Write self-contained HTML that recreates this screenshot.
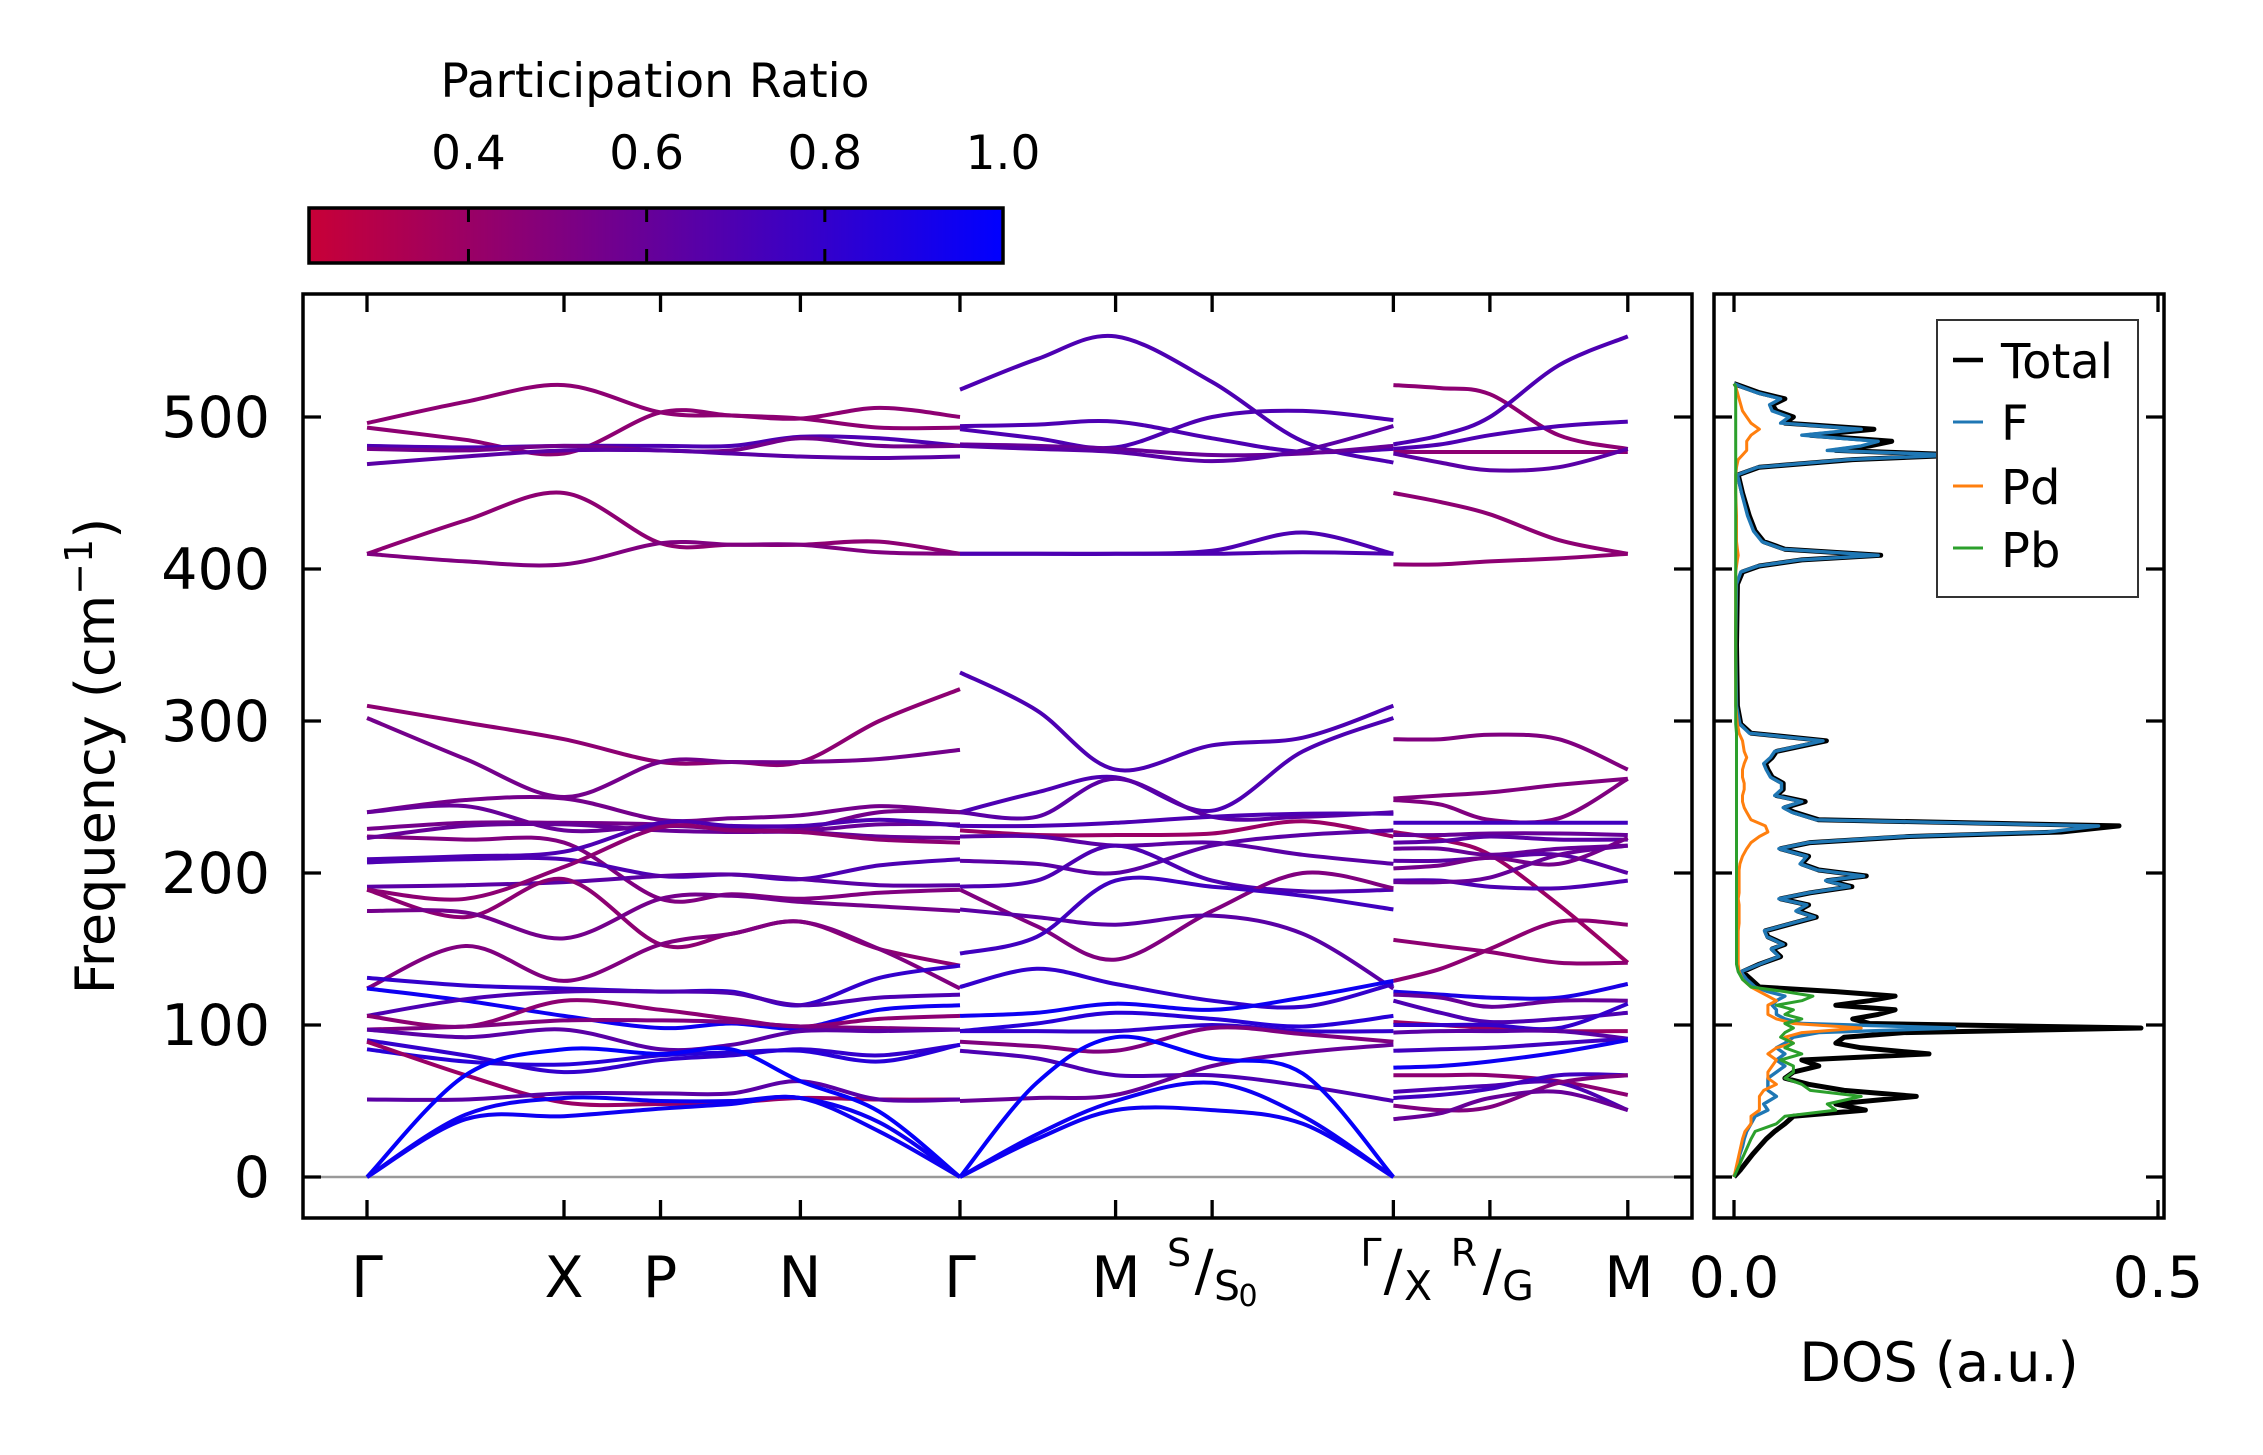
<!DOCTYPE html>
<html><head><meta charset="utf-8"><style>
html,body{margin:0;padding:0;background:#fff;}
svg{display:block;font-family:"DejaVu Sans","Liberation Sans",sans-serif;}
</style></head><body>
<svg id="chart" width="2263" height="1455" viewBox="0 0 2263 1455" xmlns="http://www.w3.org/2000/svg">
<defs>
<linearGradient id="cmap" x1="0" x2="1" y1="0" y2="0">
<stop offset="0" stop-color="rgb(200,0,55)"/><stop offset="1" stop-color="rgb(0,0,255)"/>
</linearGradient>
<clipPath id="mainclip"><rect x="303" y="294" width="1389" height="924"/></clipPath>
<clipPath id="dosclip"><rect x="1714" y="294" width="450" height="924"/></clipPath>
</defs>
<g id="colorbar">
<text x="655" y="97" font-size="47" text-anchor="middle">Participation Ratio</text>
<rect x="309" y="208" width="694" height="55" fill="url(#cmap)" stroke="#000" stroke-width="3.5"/>
</g>
<g id="bands" clip-path="url(#mainclip)"></g>
<g id="dos" clip-path="url(#dosclip)"></g>
<g id="axes"></g>
<g id="legend">
<rect x="1937" y="320" width="201" height="277" fill="#fff" stroke="#333" stroke-width="2"/>
<line x1="1953" x2="1983" y1="360" y2="360" stroke="#000" stroke-width="4.5"/>
<text x="2001" y="378" font-size="48">Total</text>
<line x1="1953" x2="1983" y1="422" y2="422" stroke="#1f77b4" stroke-width="3"/>
<text x="2001" y="440" font-size="48">F</text>
<line x1="1953" x2="1983" y1="486" y2="486" stroke="#ff7f0e" stroke-width="3"/>
<text x="2001" y="504" font-size="48">Pd</text>
<line x1="1953" x2="1983" y1="548" y2="548" stroke="#2ca02c" stroke-width="3"/>
<text x="2001" y="567" font-size="48">Pb</text>
</g>
</svg>
<script>
const NS="http://www.w3.org/2000/svg";
// ---- band data ----
const segAk=[0,0.5,1,1.49,1.85,2.2,2.6,3.01];
const segABands=[
[496,510,521,503,501,499,506,500],[493,485,476,503,501,499,493,493],[481,480,481,481,481,487,486,481],
[479,478,481,478,478,486,481,481],[469,474,478,478,476,474,473,474],[410,432,450,417,416,416,418,410],
[410,405,403,417,416,416,411,410],[310,299,288,273,273,273,300,321],[302,275,250,273,273,273,275,281],
[240,248,249,235,236,238,244,240],[240,244,228,231,229,228,232,232],[229,233,233,232,229,229,240,240],
[224,222,220,183,186,183,187,189],[223,231,232,228,227,227,224,223],[209,211,214,233,231,231,235,231],
[207,209,209,198,199,196,205,209],[191,192,194,198,199,196,192,192],[189,183,204,230,228,227,222,220],
[189,171,196,153,160,168,150,139],[175,174,157,183,185,181,178,175],[124,152,129,153,160,168,150,124],
[131,126,124,122,122,113,131,139],[124,116,106,98,101,98,110,113],[106,117,122,122,121,113,118,120],
[106,99,116,110,104,99,104,106],[97,99,103,103,102,99,98,97],[97,92,97,84,87,96,96,97],
[90,80,69,77,80,84,80,87],[84,76,74,80,82,83,76,87],[89,67,49,48,49,52,51,51],
[51,51,55,55,55,63,51,51],[0,67,84,81,84,63,43,0],[0,41,52,50,50,52,36,0],[0,38,40,45,48,52,30,0]];
const segAPR=[.45,.45,.7,.55,.65,.45,.5,.45,.55,.55,.6,.55,.5,.6,.7,.7,.65,.45,.45,.55,.5,.8,.95,.7,.45,.5,.65,.8,.85,.4,.65,.98,.95,.95];
const segBk=[3.01,3.4,3.8,4.29,4.75,5.21];
const segBBands=[
[518,538,553,523,484,470],[494,495,497,486,477,479],[492,486,480,500,504,498],[482,481,479,475,476,481],
[481,479,477,471,478,494],[410,410,410,412,424,410],[410,410,410,410,411,410],[332,307,268,284,289,310],
[240,253,263,241,280,302],[240,237,262,237,237,240],[231,231,233,237,239,239],[228,225,225,226,234,224],
[224,224,218,220,212,206],[208,206,200,218,225,228],[191,195,218,195,188,189],[189,165,143,175,200,190],
[176,171,166,172,160,124],[147,158,195,191,185,176],[125,137,127,116,112,127],[106,108,114,110,118,129],
[96,101,108,104,99,106],[96,96,96,100,96,96],[89,86,83,98,94,89],[83,78,67,67,60,50],
[50,52,54,73,82,87],[0,62,92,78,68,0],[0,25,44,44,35,0],[0,28,50,62,40,0]];
const segBPR=[.7,.7,.7,.6,.65,.7,.7,.7,.7,.65,.7,.4,.65,.65,.7,.5,.65,.75,.8,.95,.85,.8,.5,.7,.6,.98,.95,.95];
const segCk=[5.21,5.45,5.7,6.05,6.4];
const segCBands=[
[521,519,515,488,479],[482,488,500,534,553],[479,482,488,494,497],[477,477,477,477,477],[476,470,465,467,479],
[450,444,436,419,410],[403,403,405,407,410],[288,288,291,288,268],[249,251,253,258,262],[248,245,235,236,262],
[233,233,233,233,233],[227,222,212,179,141],[225,225,226,226,225],[220,221,224,222,222],[216,216,212,216,218],
[208,208,210,212,200],[203,205,210,206,223],[195,195,191,190,195],[194,194,197,212,218],[156,152,148,141,141],
[129,137,150,168,166],[122,120,118,118,127],[120,118,112,116,116],[116,108,102,104,108],[102,100,98,96,96],
[100,100,100,98,114],[95,96,96,96,91],[83,84,85,88,91],[72,73,76,82,90],[67,67,67,63,54],
[56,58,60,62,44],[52,54,58,67,67],[47,44,46,62,67],[38,42,52,56,44]];
const segCPR=[.45,.7,.7,.45,.65,.45,.45,.5,.5,.5,.75,.4,.6,.65,.6,.65,.55,.7,.6,.45,.45,.9,.6,.7,.4,.8,.65,.75,.95,.45,.7,.75,.5,.6];
const kTicks=[0,1,1.49,2.2,3.01,3.8,4.29,5.21,5.7,6.4];
const yTicks=[0,100,200,300,400,500];
const cbTicks=[0.4,0.6,0.8,1.0];
const cbTickLabels=["0.4","0.6","0.8","1.0"];
// ---- DOS data ----
const dosFreq=[0,5,10,15,20,25,30,35,40,44,48,53,57,61,65,69,73,77,81,85,88,92,95,98,101,104,107,110,113,116,119,122,125,130,135,140,145,150,153,158,162,167,171,175,179,183,187,191,195,198,202,206,211,216,220,224,227,231,235,240,243,247,251,255,259,263,268,272,276,280,287,292,298,310,350,390,398,402,406,409,413,418,425,435,450,462,467,472,475,478,481,484,488,492,496,500,504,508,512,516,520,522];
const dosTotal=[0,.008,.015,.022,.03,.038,.048,.06,.07,.155,.12,.215,.13,.088,.06,.07,.1,.08,.23,.15,.12,.13,.2,.48,.16,.14,.17,.19,.12,.16,.19,.12,.03,.02,.01,.03,.055,.045,.06,.04,.037,.07,.097,.075,.088,.055,.09,.139,.11,.156,.1,.08,.088,.055,.09,.207,.386,.454,.1,.071,.06,.084,.05,.058,.058,.045,.04,.037,.045,.05,.109,.02,.008,.004,.003,.004,.01,.03,.08,.173,.06,.035,.025,.018,.01,.005,.03,.14,.27,.12,.16,.186,.09,.165,.06,.07,.05,.045,.06,.03,.01,0];
const dosF=[0,.003,.005,.007,.01,.012,.015,.02,.025,.04,.035,.05,.04,.04,.04,.05,.06,.05,.06,.05,.06,.07,.1,.26,.08,.06,.05,.05,.045,.05,.06,.04,.025,.015,.008,.03,.053,.044,.058,.039,.036,.068,.095,.073,.086,.053,.088,.136,.108,.153,.098,.078,.086,.053,.088,.2,.37,.43,.097,.068,.058,.08,.048,.056,.056,.043,.038,.035,.043,.048,.105,.018,.007,.003,.002,.003,.008,.028,.077,.17,.058,.033,.023,.016,.009,.004,.028,.135,.26,.11,.15,.17,.08,.15,.055,.065,.045,.042,.055,.027,.008,0];
const dosPd=[0,.002,.004,.006,.008,.01,.013,.02,.02,.03,.03,.03,.035,.05,.04,.04,.045,.05,.04,.05,.07,.06,.08,.15,.07,.05,.04,.04,.04,.05,.04,.03,.02,.01,.006,.005,.005,.005,.005,.005,.005,.006,.006,.006,.006,.005,.006,.006,.006,.006,.006,.007,.01,.015,.02,.03,.04,.037,.02,.015,.012,.01,.01,.012,.012,.01,.01,.012,.015,.012,.01,.006,.004,.002,.002,.002,.002,.003,.004,.005,.004,.003,.003,.003,.002,.002,.003,.005,.01,.015,.015,.015,.02,.03,.02,.015,.01,.008,.006,.004,.002,0];
const dosPb=[0,.004,.008,.012,.016,.02,.025,.05,.06,.12,.11,.15,.09,.08,.06,.07,.07,.055,.08,.06,.07,.055,.06,.07,.06,.08,.06,.07,.05,.08,.093,.06,.02,.01,.005,.003,.003,.003,.003,.003,.003,.003,.003,.003,.003,.003,.003,.003,.003,.003,.003,.003,.003,.003,.003,.003,.003,.003,.003,.003,.003,.003,.003,.003,.003,.003,.003,.003,.003,.003,.003,.003,.002,.002,.002,.002,.002,.002,.002,.002,.002,.002,.002,.002,.002,.002,.002,.002,.002,.002,.002,.002,.002,.002,.002,.002,.002,.002,.002,.002,.002,0];
const dosTicks=[0,0.5];
const dosTickLabels=["0.0","0.5"];

// ---- scales ----
function xK(k){return 367+197*k;}
function yF(f){return 1177-1.52*f;}
function xD(v){return 1734+848*v;}
function xCB(v){return 309+(v-0.221)/(1-0.221)*694;}
function cmap(v){const t=Math.max(0,Math.min(1,(v-0.221)/0.779));return `rgb(${Math.round(200*(1-t))},0,${Math.round(55+200*t)})`;}
function mk(tag,attrs,parent){const e=document.createElementNS(NS,tag);for(const a in attrs)e.setAttribute(a,attrs[a]);parent.appendChild(e);return e;}
function smoothPath(pts){
  let d=`M${pts[0][0].toFixed(1)},${pts[0][1].toFixed(1)}`;
  for(let i=0;i<pts.length-1;i++){
    const p0=pts[Math.max(0,i-1)],p1=pts[i],p2=pts[i+1],p3=pts[Math.min(pts.length-1,i+2)];
    const c1=[p1[0]+(p2[0]-p0[0])/6,p1[1]+(p2[1]-p0[1])/6];
    const c2=[p2[0]-(p3[0]-p1[0])/6,p2[1]-(p3[1]-p1[1])/6];
    d+=`C${c1[0].toFixed(1)},${c1[1].toFixed(1)} ${c2[0].toFixed(1)},${c2[1].toFixed(1)} ${p2[0].toFixed(1)},${p2[1].toFixed(1)}`;
  }
  return d;
}
const gB=document.getElementById('bands');
const gA=document.getElementById('axes');
const gD=document.getElementById('dos');
const zl=mk('line',{x1:303,x2:1692,y1:yF(0),y2:yF(0),stroke:'#999','stroke-width':2.5},gB);


function drawSeg(ks,bands,prs,name){
  bands.forEach((b,i)=>{
    const pts=b.map((f,j)=>[xK(ks[j]),yF(f)]);
    const p=mk('path',{d:smoothPath(pts),fill:'none',stroke:cmap(prs[i]),'stroke-width':4},gB);
    
    
  });
}
drawSeg(segAk,segABands,segAPR,'seg-a');
drawSeg(segBk,segBBands,segBPR,'seg-b');
drawSeg(segCk,segCBands,segCPR,'seg-c');
function drawDos(vals,color,w,name){
  const pts=vals.map((v,i)=>`${xD(v).toFixed(1)},${yF(dosFreq[i]).toFixed(1)}`).join(' ');
  const p=mk('polyline',{points:pts,fill:'none',stroke:color,'stroke-width':w,'stroke-linejoin':'round'},gD);
  
  
}
drawDos(dosTotal,'#000',5,'dos-total-line');
drawDos(dosF,'#1f77b4',3.4,'dos-f-line');
drawDos(dosPd,'#ff7f0e',3,'dos-pd-line');
drawDos(dosPb,'#2ca02c',3,'dos-pb-line');
const f1=mk('rect',{x:303,y:294,width:1389,height:924,fill:'none',stroke:'#000','stroke-width':3.5},gA);


const f2=mk('rect',{x:1714,y:294,width:450,height:924,fill:'none',stroke:'#000','stroke-width':3.5},gA);


yTicks.forEach(t=>{
  const y=yF(t);
  [[303,321],[1692,1674],[1714,1732],[2164,2146]].forEach(([a,b])=>{
    const l=mk('line',{x1:a,x2:b,y1:y,y2:y,stroke:'#000','stroke-width':3.3},gA);
    
    
  });
  const tx=mk('text',{x:270,y:y+20,'font-size':57,'text-anchor':'end'},gA);
  tx.textContent=String(t);
  
  
});
kTicks.forEach(k=>{
  const x=xK(k);
  [[1218,1200],[294,312]].forEach(([a,b])=>{
    const l=mk('line',{x1:x,x2:x,y1:a,y2:b,stroke:'#000','stroke-width':3.3},gA);
    
    
  });
});
dosTicks.forEach((v,i)=>{
  const x=xD(v);
  [[1218,1200],[294,312]].forEach(([a,b])=>{
    const l=mk('line',{x1:x,x2:x,y1:a,y2:b,stroke:'#000','stroke-width':3.3},gA);
    
    
  });
  const tx=mk('text',{x:x,y:1297,'font-size':57,'text-anchor':'middle'},gA);
  tx.textContent=dosTickLabels[i];
  
  
});
const gC=document.getElementById('colorbar');
cbTicks.forEach((v,i)=>{
  const x=xCB(v);
  if(v<1){
    [[208,222],[263,249]].forEach(([a,b])=>{
      const l=mk('line',{x1:x,x2:x,y1:a,y2:b,stroke:'#000','stroke-width':3},gC);
      
      
    });
  }
  const tx=mk('text',{x:x,y:169,'font-size':47,'text-anchor':'middle'},gC);
  tx.textContent=cbTickLabels[i];
  
  
});
</script>
<svg style="position:absolute;left:0;top:0" width="2263" height="1455" viewBox="0 0 2263 1455" xmlns="http://www.w3.org/2000/svg" font-family="DejaVu Sans, Liberation Sans, sans-serif">
<g font-size="57" text-anchor="middle">
<text x="367" y="1297">Γ</text>
<text x="564" y="1297">X</text>
<text x="660" y="1297">P</text>
<text x="800" y="1297">N</text>
<text x="960" y="1297">Γ</text>
<text x="1116" y="1297">M</text>
<text x="1629" y="1297">M</text>
</g>
<g>
<text x="1179" y="1266" font-size="38" text-anchor="middle">S</text>
<text x="1204" y="1290" font-size="56" text-anchor="middle">/</text>
<text x="1227" y="1300" font-size="41" text-anchor="middle">S</text>
<text x="1248" y="1306" font-size="30" text-anchor="middle">0</text>
</g>
<g>
<text x="1371" y="1266" font-size="38" text-anchor="middle">Γ</text>
<text x="1393" y="1290" font-size="56" text-anchor="middle">/</text>
<text x="1418" y="1300" font-size="41" text-anchor="middle">X</text>
</g>
<g>
<text x="1464" y="1266" font-size="38" text-anchor="middle">R</text>
<text x="1492" y="1290" font-size="56" text-anchor="middle">/</text>
<text x="1518" y="1300" font-size="41" text-anchor="middle">G</text>
</g>
<text x="1939" y="1381" font-size="54" text-anchor="middle">DOS (a.u.)</text>
<text transform="translate(114,756) rotate(-90)" font-size="54" text-anchor="middle">Frequency (cm<tspan font-size="38" dy="-22">−1</tspan><tspan dy="22">)</tspan></text>
</svg>
</body></html>
